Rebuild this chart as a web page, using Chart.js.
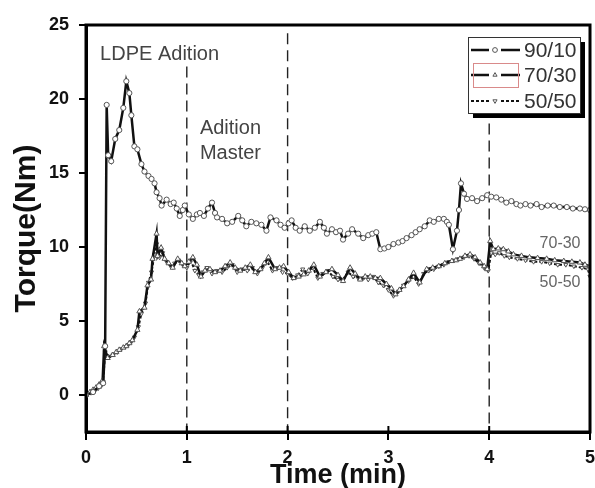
<!DOCTYPE html>
<html>
<head>
<meta charset="utf-8">
<script src="https://cdn.jsdelivr.net/npm/chart.js@4.4.1/dist/chart.umd.min.js"></script>
<style>
  body { margin: 0; background: #fff; }
  #wrap { width: 595px; height: 488px; }
</style>
</head>
<body>
<div id="wrap"><canvas id="torqueChart"></canvas></div>
<script>
// torque curves, time in min / torque in N.m
const time9010 = [0, 0.07, 0.13, 0.17, 0.19, 0.205, 0.22, 0.25, 0.29, 0.33,
  0.37, 0.40, 0.43, 0.45, 0.48, 0.51, 0.55, 0.58, 0.62, 0.65,
  0.68, 0.70, 0.73, 0.75, 0.80, 0.84, 0.87, 0.90, 0.93, 0.96,
  0.98, 1.02, 1.06, 1.10, 1.13, 1.17, 1.21, 1.25, 1.28, 1.30,
  1.35, 1.40, 1.45, 1.51, 1.55, 1.59, 1.64, 1.69, 1.74, 1.79,
  1.83, 1.89, 1.93, 1.97, 2.01, 2.04, 2.08, 2.12, 2.17, 2.22,
  2.27, 2.32, 2.36, 2.39, 2.44, 2.48, 2.52, 2.55, 2.60, 2.64,
  2.70, 2.75, 2.80, 2.84, 2.88, 2.92, 2.96, 3.00, 3.05, 3.10,
  3.14, 3.18, 3.23, 3.27, 3.31, 3.36, 3.41, 3.45, 3.50, 3.55,
  3.58, 3.60, 3.64, 3.68, 3.70, 3.72, 3.75, 3.78, 3.83, 3.88,
  3.93, 3.98, 4.02, 4.07, 4.12, 4.17, 4.22, 4.27, 4.31, 4.36,
  4.41, 4.47, 4.52, 4.58, 4.64, 4.70, 4.77, 4.83, 4.90, 4.95,
  5.00];
const torque9010 = [0, 0.2, 0.6, 0.8, 3.3, 19.6, 16.2, 15.8, 17.3, 17.9,
  19.4, 21.2, 20.4, 18.9, 16.8, 16.6, 15.6, 15.1, 14.8, 14.6,
  14.3, 13.7, 13.3, 12.8, 13.2, 12.9, 13.0, 12.6, 12.1, 12.5,
  12.8, 12.2, 11.9, 12.2, 12.3, 12.1, 12.6, 13.0, 12.3, 12.0,
  11.9, 11.6, 11.7, 12.1, 11.8, 11.4, 11.7, 11.6, 11.5, 11.1,
  12.0, 11.8, 11.5, 11.3, 11.6, 11.8, 11.3, 11.1, 11.4, 11.1,
  11.3, 11.7, 11.3, 10.9, 11.2, 11.0, 11.1, 10.5, 10.9, 11.2,
  10.9, 10.6, 10.8, 10.9, 11.0, 9.85, 9.9, 10.0, 10.2, 10.3,
  10.4, 10.6, 10.8, 11.0, 11.2, 11.4, 11.8, 11.7, 11.9, 11.9,
  11.7, 11.5, 9.85, 11.1, 12.5, 14.3, 13.6, 13.25, 13.3, 13.1,
  13.3, 13.5, 13.4, 13.35, 13.2, 13.0, 13.1, 12.9, 12.8, 12.9,
  12.8, 12.9, 12.7, 12.8, 12.8, 12.7, 12.7, 12.6, 12.6, 12.55,
  12.5];

const time7030 = [0, 0.04, 0.07, 0.10, 0.13, 0.165, 0.18, 0.215, 0.265, 0.30,
  0.33, 0.37, 0.40, 0.43, 0.46, 0.51, 0.53, 0.58, 0.61, 0.645,
  0.66, 0.70, 0.71, 0.745, 0.78, 0.82, 0.86, 0.91, 0.95, 0.98,
  1.02, 1.06, 1.10, 1.14, 1.18, 1.23, 1.28, 1.33, 1.38, 1.43,
  1.48, 1.53, 1.58, 1.63, 1.68, 1.73, 1.77, 1.81, 1.875, 1.92,
  1.96, 2.01, 2.06, 2.11, 2.16, 2.21, 2.26, 2.32, 2.38, 2.44,
  2.50, 2.55, 2.62, 2.67, 2.72, 2.77, 2.82, 2.87, 2.92, 2.98,
  3.03, 3.07, 3.11, 3.15, 3.20, 3.25, 3.31, 3.38, 3.44, 3.50,
  3.56, 3.63, 3.67, 3.71, 3.76, 3.81, 3.86, 3.91, 3.95, 3.98,
  4.01, 4.04, 4.09, 4.14, 4.19, 4.24, 4.32, 4.40, 4.48, 4.57,
  4.65, 4.74, 4.82, 4.90, 4.95, 5.00];
const torque7030 = [0, 0.2, 0.35, 0.5, 0.7, 1.0, 3.3, 2.5, 2.7, 2.9,
  3.05, 3.2, 3.3, 3.5, 3.7, 4.4, 5.65, 5.9, 7.4, 7.8,
  9.2, 10.9, 9.4, 9.95, 9.2, 8.9, 8.6, 9.2, 8.9, 8.7,
  9.0, 9.3, 8.8, 8.0, 8.4, 8.5, 8.3, 8.4, 8.7, 8.95,
  8.6, 8.4, 8.6, 8.8, 8.3, 8.5, 8.9, 9.3, 8.5, 8.6,
  8.7, 8.3, 7.9, 8.0, 8.15, 8.4, 8.8, 8.0, 8.3, 8.5,
  8.1, 7.7, 8.6, 8.2, 7.8, 8.0, 8.0, 7.9, 7.9, 7.5,
  7.2, 6.8, 7.1, 7.35, 7.8, 8.25, 7.6, 8.5, 8.6, 8.7,
  8.9, 9.05, 9.1, 9.2, 9.4, 9.5, 9.3, 8.95, 8.7, 8.5,
  10.4, 9.85, 9.9, 9.85, 9.7, 9.5, 9.4, 9.3, 9.25, 9.2,
  9.1, 9.05, 9.0, 8.95, 8.8, 8.7];

const time5050 = [0, 0.05, 0.09, 0.12, 0.15, 0.17, 0.19, 0.23, 0.27, 0.31,
  0.35, 0.39, 0.42, 0.45, 0.48, 0.52, 0.55, 0.59, 0.62, 0.65,
  0.68, 0.70, 0.73, 0.76, 0.80, 0.84, 0.88, 0.92, 0.96, 1.00,
  1.04, 1.08, 1.12, 1.16, 1.20, 1.25, 1.30, 1.35, 1.40, 1.45,
  1.50, 1.55, 1.60, 1.65, 1.70, 1.75, 1.80, 1.85, 1.90, 1.95,
  2.00, 2.05, 2.10, 2.15, 2.20, 2.25, 2.30, 2.35, 2.40, 2.45,
  2.50, 2.55, 2.60, 2.65, 2.70, 2.75, 2.80, 2.85, 2.90, 2.95,
  3.00, 3.05, 3.10, 3.15, 3.20, 3.25, 3.30, 3.35, 3.40, 3.45,
  3.50, 3.55, 3.60, 3.65, 3.70, 3.75, 3.80, 3.85, 3.90, 3.95,
  3.99, 4.02, 4.06, 4.10, 4.15, 4.20, 4.28, 4.36, 4.44, 4.52,
  4.60, 4.68, 4.76, 4.84, 4.92, 4.98, 5.00];
const torque5050 = [0, 0.15, 0.3, 0.45, 0.6, 0.9, 2.9, 2.6, 2.75, 2.9,
  3.1, 3.25, 3.4, 3.6, 3.9, 4.6, 5.5, 6.2, 7.6, 8.3,
  9.5, 10.2, 9.3, 9.6, 9.0, 8.7, 8.9, 9.1, 8.8, 8.6,
  9.1, 8.4, 8.1, 8.3, 8.6, 8.2, 8.4, 8.3, 8.6, 8.8,
  8.3, 8.5, 8.4, 8.6, 8.2, 8.6, 9.0, 8.4, 8.6, 8.3,
  8.2, 7.9, 8.1, 8.5, 8.2, 8.6, 7.9, 8.2, 8.4, 8.0,
  7.8, 7.8, 8.3, 8.0, 7.9, 7.9, 7.8, 8.0, 7.6, 7.4,
  7.1, 6.7, 7.0, 7.4, 7.7, 8.0, 7.5, 8.2, 8.4, 8.5,
  8.7, 8.8, 9.0, 9.1, 9.2, 9.3, 9.4, 9.2, 8.9, 8.6,
  8.4, 9.6, 9.5, 9.6, 9.4, 9.3, 9.2, 9.1, 9.0, 9.0,
  8.9, 8.8, 8.8, 8.7, 8.6, 8.5, 8.0];

const seriesNames = ["90/10", "70/30", "50/50"];
const xTickValues = [0, 1, 2, 3, 4, 5];
const yTickValues = [0, 5, 10, 15, 20, 25];
// vertical dashed markers: [time, top of line]
const stageLines = [[1, 22.2], [2, 24.45], [4, 18.35]];

function toPoints(xs, ys) {
  return xs.map((x, i) => ({ x: x, y: ys[i] }));
}

const FONT = "'Liberation Sans', Arial, sans-serif";

const styles = [
  { pointStyle: "circle", rotation: 0, dash: [], radius: 2.6 },
  { pointStyle: "triangle", rotation: 0, dash: [], radius: 3 },
  { pointStyle: "triangle", rotation: 180, dash: [3, 2], radius: 2.4 },
];

const datasets = [
  toPoints(time9010, torque9010),
  toPoints(time7030, torque7030),
  toPoints(time5050, torque5050),
].map((pts, i) => ({
  label: seriesNames[i],
  data: pts,
  borderColor: "#111",
  borderWidth: i === 2 ? 2 : 2.5,
  borderDash: styles[i].dash,
  pointStyle: styles[i].pointStyle,
  rotation: styles[i].rotation,
  pointRadius: styles[i].radius,
  pointBorderWidth: 1,
  pointBorderColor: "#555",
  pointBackgroundColor: "#fff",
  tension: 0,
}));

const decor = {
  id: "decor",
  beforeDatasetsDraw(chart) {
    const { ctx, scales } = chart;
    const bottom = chart.chartArea.bottom;
    ctx.save();
    ctx.strokeStyle = "#222";
    ctx.lineWidth = 1.4;
    ctx.setLineDash([11, 6]);
    stageLines.forEach(([t, top]) => {
      const x = scales.x.getPixelForValue(t);
      ctx.beginPath();
      ctx.moveTo(x, scales.y.getPixelForValue(top));
      ctx.lineTo(x, bottom);
      ctx.stroke();
    });
    ctx.restore();
  },
  afterDatasetsDraw(chart) {
    const { ctx, chartArea: a, scales } = chart;
    ctx.save();
    // frame
    ctx.strokeStyle = "#000";
    ctx.lineWidth = 3;
    ctx.strokeRect(a.left, a.top, a.right - a.left, a.bottom - a.top);
    // x ticks poke a little into the plot
    ctx.lineWidth = 2;
    xTickValues.forEach((t) => {
      const x = scales.x.getPixelForValue(t);
      ctx.beginPath();
      ctx.moveTo(x, a.bottom);
      ctx.lineTo(x, a.bottom - 6);
      ctx.stroke();
    });

    // notes
    ctx.fillStyle = "#444";
    ctx.font = "20px " + FONT;
    ctx.textBaseline = "middle";
    ctx.textAlign = "left";
    ctx.fillText("LDPE Adition", scales.x.getPixelForValue(0.14), scales.y.getPixelForValue(23.0));
    ctx.fillText("Adition", scales.x.getPixelForValue(1.13), scales.y.getPixelForValue(18.0));
    ctx.fillText("Master", scales.x.getPixelForValue(1.13), scales.y.getPixelForValue(16.3));
    ctx.fillStyle = "#666";
    ctx.font = "16px " + FONT;
    ctx.fillText("70-30", scales.x.getPixelForValue(4.5), scales.y.getPixelForValue(10.25));
    ctx.fillText("50-50", scales.x.getPixelForValue(4.5), scales.y.getPixelForValue(7.6));

    // legend box with shadow
    const lx = 468, ly = 37, lw = 112, lh = 76;
    ctx.fillStyle = "#000";
    ctx.fillRect(lx + 5, ly + 5, lw, lh);
    ctx.fillStyle = "#fff";
    ctx.fillRect(lx, ly, lw, lh);
    ctx.strokeStyle = "#333";
    ctx.lineWidth = 1;
    ctx.strokeRect(lx + 0.5, ly + 0.5, lw, lh);

    const rows = [50, 75, 101];
    datasets.forEach((ds, i) => {
      const y = rows[i];
      ctx.strokeStyle = "#111";
      ctx.lineWidth = ds.borderWidth;
      ctx.setLineDash(ds.borderDash);
      ctx.beginPath();
      ctx.moveTo(471, y);
      ctx.lineTo(520, y);
      ctx.stroke();
      ctx.setLineDash([]);
      ctx.fillStyle = "#fff";
      ctx.fillRect(489, y - 4, 12, 8);
      ctx.strokeStyle = "#555";
      ctx.lineWidth = 1;
      Chart.helpers.drawPoint(ctx, {
        pointStyle: ds.pointStyle, rotation: ds.rotation, radius: 2.4, borderWidth: 1,
      }, 495, y);
      ctx.fillStyle = "#333";
      ctx.font = "21px " + FONT;
      ctx.textAlign = "left";
      ctx.fillText(ds.label, 524, y + 1);
    });
    ctx.strokeStyle = "#d98a8a";
    ctx.lineWidth = 1;
    ctx.strokeRect(473.5, 63.5, 45, 24);
    ctx.restore();
  },
};

new Chart(document.getElementById("torqueChart"), {
  type: "line",
  data: { datasets: datasets },
  options: {
    responsive: true,
    maintainAspectRatio: false,
    animation: false,
    layout: { padding: { top: 25, right: 5, left: 0, bottom: 0 } },
    plugins: { legend: { display: false }, tooltip: { enabled: false } },
    scales: {
      x: {
        type: "linear",
        min: 0,
        max: 5,
        ticks: {
          stepSize: 1,
          color: "#111",
          padding: 7,
          font: { family: FONT, size: 18, weight: "bold" },
        },
        grid: { drawOnChartArea: false, drawTicks: true, tickLength: 8, color: "#000", lineWidth: 2 },
        border: { display: true, width: 3, color: "#000" },
        title: {
          display: true,
          text: "Time (min)",
          color: "#111",
          font: { family: FONT, size: 27, weight: "bold" },
          padding: { top: 0, bottom: -4 },
        },
        afterFit(scale) {
          scale.height = 56;
          scale.paddingLeft = 0;
          scale.paddingRight = 0;
        },
      },
      y: {
        min: -2.5,
        max: 25,
        ticks: {
          color: "#111",
          padding: 10,
          font: { family: FONT, size: 18, weight: "bold" },
        },
        afterBuildTicks(scale) {
          scale.ticks = yTickValues.map((v) => ({ value: v }));
        },
        grid: { drawOnChartArea: false, drawTicks: true, tickLength: 7, color: "#000", lineWidth: 2 },
        border: { display: true, width: 3, color: "#000" },
        title: {
          display: true,
          text: "Torque(Nm)",
          color: "#111",
          font: { family: FONT, size: 30, weight: "bold" },
          padding: { top: 9, bottom: 0 },
        },
        afterFit(scale) {
          scale.width = 86;
          scale.paddingTop = 0;
          scale.paddingBottom = 0;
        },
      },
    },
  },
  plugins: [decor],
});
</script>
</body>
</html>
